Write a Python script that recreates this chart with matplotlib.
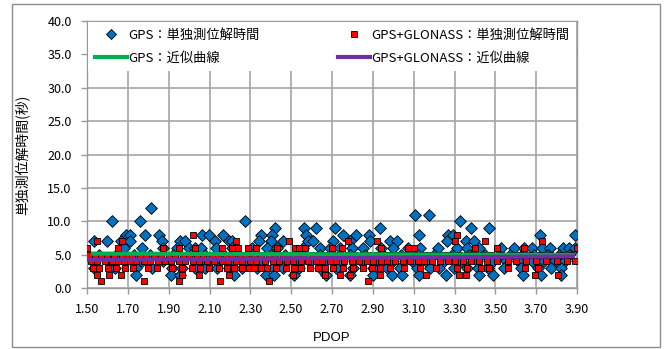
import matplotlib
matplotlib.use('Agg')
import matplotlib.pyplot as plt
from matplotlib.patches import Rectangle
from matplotlib.lines import Line2D

plt.rcParams['font.family'] = ['Noto Sans CJK JP', 'DejaVu Sans']

# ---- data ----
# GPS: single positioning time (s) vs PDOP
gps_pdop = [
    1.813,
    3.108, 3.176,
    1.623, 1.762, 2.274, 3.327,
    2.422, 2.562, 2.623, 2.713, 2.935, 3.380, 3.470,
    1.689, 1.712, 1.783, 1.852, 2.063, 2.096, 2.165, 2.351, 2.405, 2.573,
    2.754, 2.817, 2.883, 3.128, 3.268, 3.293, 3.721, 3.890,
    1.533, 1.599, 1.668, 1.709, 1.869, 1.956, 1.981, 2.129, 2.195, 2.211,
    2.343, 2.400, 2.458, 2.581, 2.606, 2.705, 2.787, 2.886, 2.985, 3.018,
    3.265, 3.355, 3.396,
    1.68, 1.77, 1.87, 1.94, 2.00, 2.03, 2.06, 2.13, 2.21, 2.31, 2.38, 2.43,
    2.56, 2.64, 2.69, 2.74, 2.80, 2.85, 2.94, 3.00, 3.07, 3.13, 3.22, 3.31,
    3.36, 3.42, 3.53, 3.59, 3.64, 3.68, 3.73, 3.77, 3.83, 3.86, 3.89,
    1.56, 1.64, 1.73, 1.81, 1.92, 2.01, 2.08, 2.17, 2.24, 2.31, 2.40, 2.47,
    2.55, 2.64, 2.70, 2.79, 2.86, 2.95, 3.04, 3.12, 3.20, 3.29, 3.37, 3.45,
    3.52, 3.57, 3.63, 3.69, 3.76, 3.81, 3.86,
    1.53, 1.61, 1.69, 1.77, 1.87, 1.96, 2.06, 2.13, 2.20, 2.29, 2.36, 2.43,
    2.52, 2.59, 2.66, 2.75, 2.84, 2.91, 3.00, 3.09, 3.16, 3.25, 3.33, 3.41,
    3.49, 3.55, 3.61, 3.68, 3.74, 3.79, 3.84,
    1.536, 1.635, 1.742, 1.816, 1.915, 1.964, 2.030, 2.079, 2.137, 2.195,
    2.260, 2.335, 2.409, 2.458, 2.540, 2.639, 2.721, 2.804, 2.902, 2.968,
    3.034, 3.116, 3.182, 3.223, 3.298, 3.363, 3.413, 3.462, 3.544, 3.627,
    3.709, 3.775, 3.824,
    1.742, 1.912, 1.956, 2.219, 2.376, 2.417, 2.516, 2.669, 2.787, 2.902,
    2.993, 3.042, 3.125, 3.256, 3.421, 3.487, 3.635, 3.726, 3.824,
]
gps_time = (
    [12] + [11] * 2 + [10] * 4 + [9] * 7 + [8] * 18 + [7] * 23 + [6] * 35
    + [5] * 31 + [4] * 31 + [3] * 33 + [2] * 19
)

# GPS+GLONASS: single positioning time (s) vs PDOP
glo_pdop = [
    2.02, 3.31,
    1.55, 1.67, 2.23, 2.49, 2.78, 2.92, 3.30, 3.45, 3.73,
    1.50, 1.65, 1.87, 1.95, 2.03, 2.16, 2.21, 2.24, 2.29, 2.33, 2.43, 2.52,
    2.54, 2.57, 2.70, 2.75, 2.94, 3.07, 3.10, 3.40, 3.51, 3.64, 3.90,
    1.51, 1.54, 1.57, 1.60, 1.63, 1.67, 1.70, 1.72, 1.76, 1.79, 1.83, 1.86,
    1.90, 1.93, 1.97, 2.00, 2.04, 2.07, 2.11, 2.14, 2.18, 2.21, 2.25, 2.28,
    2.32, 2.35, 2.39, 2.42, 2.46, 2.49, 2.53, 2.56, 2.60, 2.63, 2.67, 2.71,
    2.74, 2.78, 2.81, 2.85, 2.88, 2.92, 2.96, 2.99, 3.03, 3.06, 3.10, 3.14,
    3.17, 3.21, 3.25, 3.28, 3.32, 3.36, 3.39, 3.44, 3.48, 3.53, 3.58, 3.62,
    3.67, 3.72, 3.77, 3.82, 3.87,
    1.52, 1.55, 1.59, 1.62, 1.65, 1.68, 1.71, 1.74, 1.78, 1.81, 1.85, 1.88,
    1.91, 1.95, 1.98, 2.02, 2.05, 2.09, 2.12, 2.16, 2.19, 2.23, 2.26, 2.30,
    2.33, 2.37, 2.41, 2.44, 2.48, 2.51, 2.55, 2.58, 2.62, 2.65, 2.69, 2.72,
    2.76, 2.80, 2.83, 2.87, 2.90, 2.94, 2.97, 3.01, 3.05, 3.08, 3.12, 3.15,
    3.19, 3.23, 3.27, 3.30, 3.34, 3.38, 3.42, 3.46, 3.51, 3.56, 3.60, 3.65,
    3.70, 3.75, 3.80, 3.85, 3.89,
    1.528, 1.561, 1.602, 1.643, 1.684, 1.726, 1.800, 1.841, 1.915, 1.964,
    2.014, 2.055, 2.096, 2.145, 2.186, 2.219, 2.260, 2.293, 2.318, 2.351,
    2.384, 2.425, 2.474, 2.516, 2.549, 2.590, 2.631, 2.664, 2.705, 2.754,
    2.804, 2.853, 2.894, 2.935, 2.985, 3.051, 3.133, 3.207, 3.314, 3.363,
    3.429, 3.470, 3.561, 3.643, 3.709,
    1.549, 1.610, 1.668, 1.964, 2.047, 2.195, 2.507, 2.664, 2.738, 2.787,
    2.935, 3.158, 3.322, 3.355, 3.693, 3.808,
    1.569, 1.780, 1.953, 2.153, 2.392, 2.878,
]
glo_time = (
    [8] * 2 + [7] * 9 + [6] * 23 + [5] * 65 + [4] * 65 + [3] * 45
    + [2] * 16 + [1] * 6
)

# trendline end points (近似曲線)
gps_trend_x = [1.52, 3.89]
gps_trend_y = [5.15, 4.95]
glo_trend_x = [1.50, 3.89]
glo_trend_y = [4.20, 4.75]

x_ticks = [1.50, 1.70, 1.90, 2.10, 2.30, 2.50, 2.70, 2.90, 3.10, 3.30, 3.50, 3.70, 3.90]
y_ticks = [0, 5, 10, 15, 20, 25, 30, 35, 40]

# ---- plot ----
fig = plt.figure(figsize=(6.65, 3.49), dpi=100)
ax = fig.add_axes([87 / 665, 1 - 288 / 349, 490 / 665, 267 / 349])

fig.patches.append(Rectangle((12 / 665, 2 / 349), 648 / 665, 343 / 349,
                             transform=fig.transFigure, fill=False,
                             edgecolor='#8c8c8c', linewidth=1.0))

ax.scatter(gps_pdop, gps_time, marker='D', s=36, color='#0070C0',
           edgecolor='black', linewidth=0.6, zorder=3)
ax.scatter(glo_pdop, glo_time, marker='s', s=20, color='#FF0000',
           edgecolor='black', linewidth=0.6, zorder=4)
ax.plot(gps_trend_x, gps_trend_y, color='#00B050', linewidth=3.0,
        solid_capstyle='butt', zorder=5)
ax.plot(glo_trend_x, glo_trend_y, color='#7030A0', linewidth=3.0,
        solid_capstyle='butt', zorder=6)

ax.set_xlim(1.50, 3.90)
ax.set_ylim(0, 40)
ax.set_xticks(x_ticks)
ax.set_xticklabels([f'{v:.2f}' for v in x_ticks])
ax.set_yticks(y_ticks)
ax.set_yticklabels([f'{v:.1f}' for v in y_ticks])
ax.tick_params(axis='both', labelsize=9, length=4, width=1.0,
               color='#999999', pad=7)
ax.grid(True, color='#a6a6a6', linewidth=1.2, zorder=0)
ax.set_axisbelow(True)
for sp in ax.spines.values():
    sp.set_color('#999999')
    sp.set_linewidth(1.0)

ax.set_xlabel('PDOP', fontsize=9.5, family=['Liberation Sans', 'DejaVu Sans'],
              labelpad=11)
fig.text(22 / 665, 1 - 155 / 349, '単独測位解時間(秒)', rotation=90,
         ha='center', va='center', fontsize=10)

handles = [
    Line2D([], [], linestyle='none', marker='D', markersize=5.5,
           markerfacecolor='#0070C0', markeredgecolor='black', markeredgewidth=0.6),
    Line2D([], [], color='#00B050', linewidth=3.0),
    Line2D([], [], linestyle='none', marker='s', markersize=4.5,
           markerfacecolor='#FF0000', markeredgecolor='black', markeredgewidth=0.6),
    Line2D([], [], color='#7030A0', linewidth=3.0),
]
labels = ['GPS：単独測位解時間', 'GPS：近似曲線',
          'GPS+GLONASS：単独測位解時間', 'GPS+GLONASS：近似曲線']
leg = ax.legend(handles, labels, ncol=2, mode='expand', loc='upper left',
                bbox_to_anchor=(0, 1, 1, 0), borderaxespad=0.1,
                fontsize=9.5, handlelength=2.4, handletextpad=0.1,
                labelspacing=0.75, borderpad=0.5, fancybox=False,
                frameon=True, framealpha=1.0)
leg.get_frame().set_edgecolor('none')
leg.get_frame().set_facecolor('white')
leg.set_zorder(10)

fig.savefig('out.png', dpi=100, facecolor='white')
